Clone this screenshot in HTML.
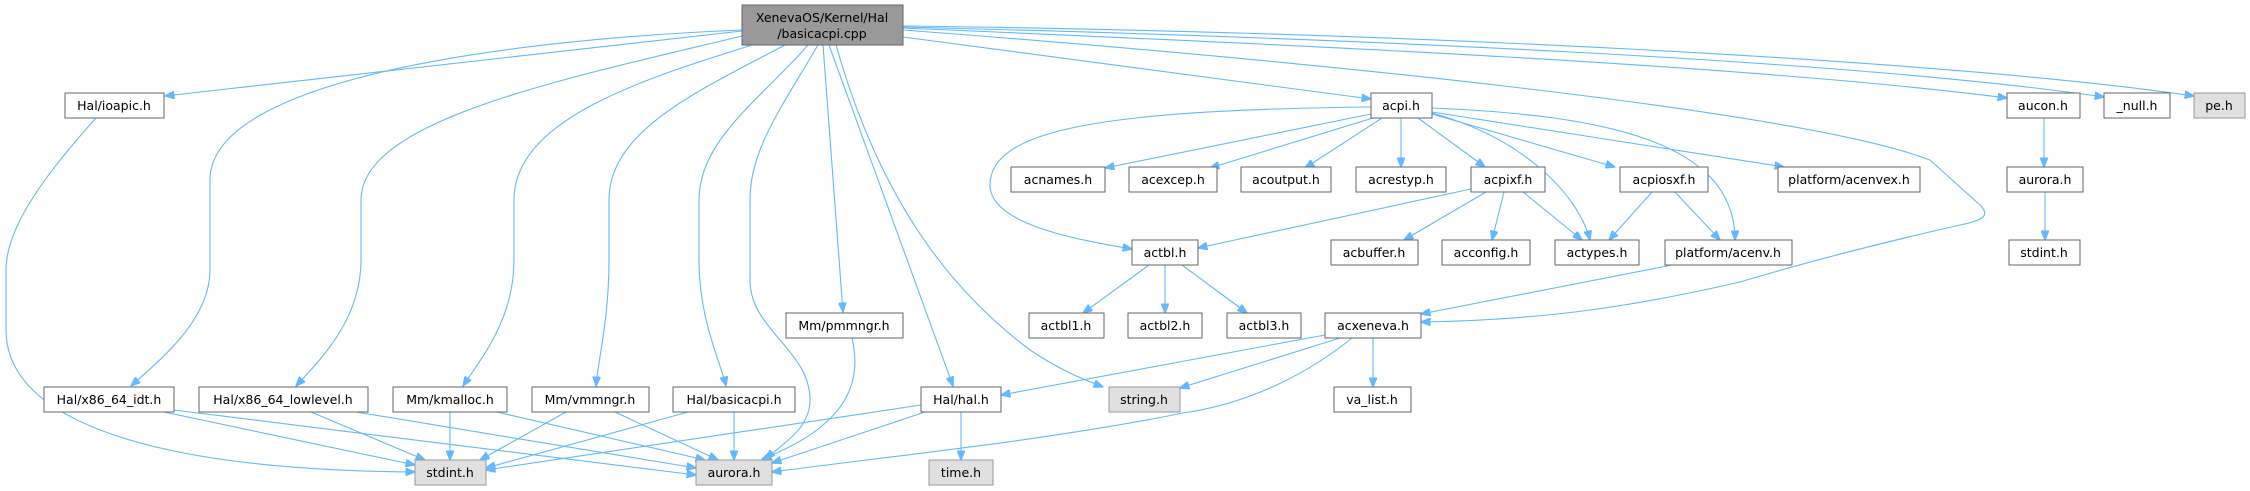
<!DOCTYPE html>
<html><head><meta charset="utf-8"><style>
html,body{margin:0;padding:0;background:#fff;}
svg{display:block;}
text{font-family:"DejaVu Sans","Liberation Sans",sans-serif;font-size:12.5px;fill:#000;text-anchor:middle;}
.n{fill:#fff;stroke:#666;stroke-width:1;}
.g{fill:#e0e0e0;stroke:#999;stroke-width:1;}
.e{fill:none;stroke:#63b8ff;stroke-width:1.1;marker-end:url(#a);}
</style></head><body>
<svg width="2250" height="491" viewBox="0 0 2250 491" xmlns="http://www.w3.org/2000/svg">
<defs><marker id="a" markerWidth="10" markerHeight="8" refX="9.5" refY="4" orient="auto" markerUnits="userSpaceOnUse"><path d="M0,0 L10,4 L0,8 z" fill="#63b8ff" stroke="#63b8ff"/></marker></defs>

<path class="e" d="M742,31 L165,96"/>
<path class="e" d="M742,30 C500,40 210,80 210,180 L210,270 C210,320 160,360 131,386"/>
<path class="e" d="M742,36 C560,80 361,120 361,200 L361,260 C361,320 320,360 296,386"/>
<path class="e" d="M752,45 C640,80 514,120 514,200 L514,260 C514,320 480,360 463,386"/>
<path class="e" d="M785,45 C700,90 609,130 609,200 L609,260 C609,320 598,360 596,386"/>
<path class="e" d="M808,45 C760,100 699,140 699,200 L699,260 C699,320 720,360 726,386"/>
<path class="e" d="M818,45 C780,110 750,150 750,200 L750,280 C750,330 810,350 810,400 C810,430 780,445 766,459"/>
<path class="e" d="M823,45 L843,312"/>
<path class="e" d="M829,45 L953,386"/>
<path class="e" d="M836,45 C880,200 950,290 1030,350 C1060,370 1080,378 1103,387"/>
<path class="e" d="M903,37 L1371,99"/>
<path class="e" d="M903,30 C1300,60 1800,110 1930,160 L1980,205 C1990,215 1985,220 1960,225 C1850,250 1780,270 1740,282 C1640,305 1550,320 1421,322"/>
<path class="e" d="M903,28 C1300,45 1750,65 2007,98"/>
<path class="e" d="M903,27 C1350,38 1850,60 2104,97"/>
<path class="e" d="M903,26 C1400,32 1950,60 2194,96"/>

<path class="e" d="M1371,107 C1100,110 990,130 990,185 C990,225 1080,240 1132,249"/>
<path class="e" d="M1371,114 L1105,168"/>
<path class="e" d="M1373,118 L1210,168"/>
<path class="e" d="M1382,118 L1305,168"/>
<path class="e" d="M1401,118 L1401,167"/>
<path class="e" d="M1418,118 L1485,167"/>
<path class="e" d="M1432,114 L1615,167"/>
<path class="e" d="M1432,113 C1530,140 1580,200 1590,240"/>
<path class="e" d="M1432,108 C1600,115 1735,140 1735,240"/>
<path class="e" d="M1432,112 L1784,167"/>

<path class="e" d="M1471,189 L1198,248"/>
<path class="e" d="M1486,192 L1404,240"/>
<path class="e" d="M1504,192 L1492,240"/>
<path class="e" d="M1523,192 L1582,240"/>
<path class="e" d="M1652,192 L1609,240"/>
<path class="e" d="M1675,192 L1720,240"/>
<path class="e" d="M1672,265 L1421,314"/>

<path class="e" d="M1149,265 L1083,313"/>
<path class="e" d="M1165,265 L1165,313"/>
<path class="e" d="M1182,265 L1247,313"/>

<path class="e" d="M1325,335 L1001,395"/>
<path class="e" d="M1340,338 L1180,388"/>
<path class="e" d="M1373,338 L1373,387"/>
<path class="e" d="M1352,338 C1300,380 1240,405 1183,413 C1050,440 900,455 772,472"/>

<path class="e" d="M961,412 L961,460"/>
<path class="e" d="M921,405 L486,470"/>
<path class="e" d="M925,412 L772,463"/>
<path class="e" d="M852,338 C862,380 850,425 762,459"/>
<path class="e" d="M96,118 C40,180 6,230 6,270 L6,330 C6,420 150,470 415,472"/>
<path class="e" d="M164,412 L415,465"/>
<path class="e" d="M174,410 L696,475"/>
<path class="e" d="M311,412 L425,460"/>
<path class="e" d="M356,412 L696,468"/>
<path class="e" d="M450,412 L450,460"/>
<path class="e" d="M497,412 L705,460"/>
<path class="e" d="M566,412 L480,460"/>
<path class="e" d="M615,412 L718,460"/>
<path class="e" d="M688,412 L486,468"/>
<path class="e" d="M734,412 L734,460"/>
<path class="e" d="M2044,118 L2044,167"/>
<path class="e" d="M2045,192 L2045,240"/>

<rect x="742" y="5" width="161" height="40" fill="#999" stroke="#666"/>
<text x="822" y="22">XenevaOS/Kernel/Hal</text>
<text x="822" y="38">/basicacpi.cpp</text>

<g>
<rect class="n" x="65" y="93" width="99" height="25"/><text x="114" y="110">Hal/ioapic.h</text>
<rect class="n" x="1371" y="93" width="61" height="25"/><text x="1401" y="110">acpi.h</text>
<rect class="n" x="2007" y="93" width="73" height="25"/><text x="2043" y="110">aucon.h</text>
<rect class="n" x="2104" y="93" width="66" height="25"/><text x="2137" y="110">_null.h</text>
<rect class="g" x="2194" y="93" width="51" height="25"/><text x="2219" y="110">pe.h</text>

<rect class="n" x="1011" y="167" width="94" height="25"/><text x="1058" y="184">acnames.h</text>
<rect class="n" x="1129" y="167" width="88" height="25"/><text x="1173" y="184">acexcep.h</text>
<rect class="n" x="1241" y="167" width="90" height="25"/><text x="1286" y="184">acoutput.h</text>
<rect class="n" x="1356" y="167" width="90" height="25"/><text x="1401" y="184">acrestyp.h</text>
<rect class="n" x="1471" y="167" width="74" height="25"/><text x="1508" y="184">acpixf.h</text>
<rect class="n" x="1620" y="167" width="88" height="25"/><text x="1664" y="184">acpiosxf.h</text>
<rect class="n" x="1778" y="167" width="142" height="25"/><text x="1849" y="184">platform/acenvex.h</text>
<rect class="n" x="2007" y="167" width="76" height="25"/><text x="2045" y="184">aurora.h</text>

<rect class="n" x="1132" y="240" width="66" height="25"/><text x="1165" y="257">actbl.h</text>
<rect class="n" x="1331" y="240" width="87" height="25"/><text x="1374" y="257">acbuffer.h</text>
<rect class="n" x="1442" y="240" width="88" height="25"/><text x="1486" y="257">acconfig.h</text>
<rect class="n" x="1555" y="240" width="84" height="25"/><text x="1597" y="257">actypes.h</text>
<rect class="n" x="1665" y="240" width="127" height="25"/><text x="1728" y="257">platform/acenv.h</text>
<rect class="n" x="2009" y="240" width="71" height="25"/><text x="2044" y="257">stdint.h</text>

<rect class="n" x="786" y="313" width="117" height="25"/><text x="844" y="330">Mm/pmmngr.h</text>
<rect class="n" x="1029" y="313" width="75" height="25"/><text x="1066" y="330">actbl1.h</text>
<rect class="n" x="1128" y="313" width="74" height="25"/><text x="1165" y="330">actbl2.h</text>
<rect class="n" x="1227" y="313" width="74" height="25"/><text x="1264" y="330">actbl3.h</text>
<rect class="n" x="1325" y="313" width="96" height="25"/><text x="1373" y="330">acxeneva.h</text>

<rect class="n" x="44" y="387" width="130" height="25"/><text x="109" y="404">Hal/x86_64_idt.h</text>
<rect class="n" x="199" y="387" width="169" height="25"/><text x="283" y="404">Hal/x86_64_lowlevel.h</text>
<rect class="n" x="393" y="387" width="114" height="25"/><text x="450" y="404">Mm/kmalloc.h</text>
<rect class="n" x="532" y="387" width="117" height="25"/><text x="590" y="404">Mm/vmmngr.h</text>
<rect class="n" x="673" y="387" width="122" height="25"/><text x="734" y="404">Hal/basicacpi.h</text>
<rect class="n" x="921" y="387" width="80" height="25"/><text x="961" y="404">Hal/hal.h</text>
<rect class="g" x="1109" y="387" width="71" height="25"/><text x="1144" y="404">string.h</text>
<rect class="n" x="1334" y="387" width="77" height="25"/><text x="1372" y="404">va_list.h</text>

<rect class="g" x="415" y="460" width="71" height="25"/><text x="450" y="477">stdint.h</text>
<rect class="g" x="696" y="460" width="76" height="25"/><text x="734" y="477">aurora.h</text>
<rect class="g" x="929" y="460" width="64" height="25"/><text x="961" y="477">time.h</text>
</g>
</svg>
</body></html>
